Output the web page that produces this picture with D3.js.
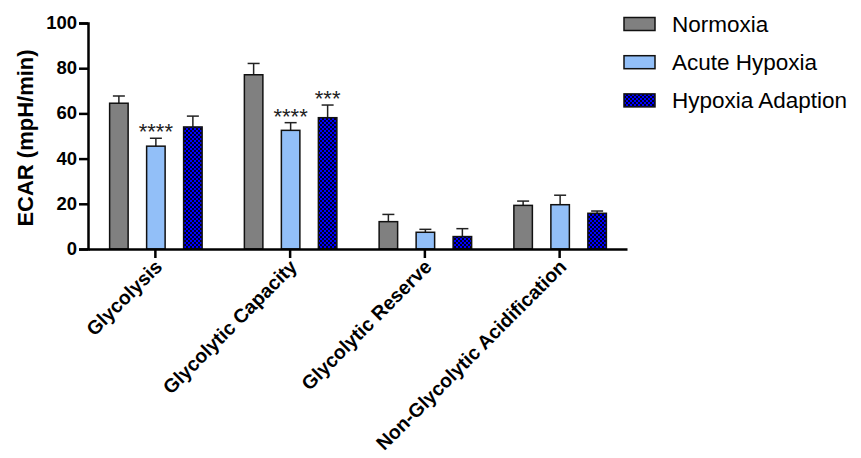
<!DOCTYPE html>
<html>
<head>
<meta charset="utf-8">
<script src="https://cdn.jsdelivr.net/npm/d3@7"></script>
<style>
  body { margin: 0; background: #fff; }
  svg { display: block; font-family: Arial, "Liberation Sans", sans-serif; }
</style>
</head>
<body>
<svg id="chart" width="861" height="458"></svg>
<script>
// ECAR parameters per condition (mean and SEM)
const categories = ["Glycolysis", "Glycolytic Capacity", "Glycolytic Reserve", "Non-Glycolytic Acidification"];
const seriesNames = ["Normoxia", "Acute Hypoxia", "Hypoxia Adaption"];
const normoxiaMean = [64.5, 77.1, 12.1, 19.3];
const normoxiaSem = [3.2, 5.0, 3.2, 1.9];
const acuteMean = [45.5, 52.5, 7.4, 19.6];
const acuteSem = [3.5, 3.4, 1.3, 4.2];
const adaptionMean = [54.0, 58.1, 5.5, 15.8];
const adaptionSem = [4.8, 5.6, 3.5, 1.0];
const significance = [["", "****", ""], ["", "****", "***"], ["", "", ""], ["", "", ""]];
const yTicks = [0, 20, 40, 60, 80, 100];

const svg = d3.select("#chart");
const defs = svg.append("defs");
const pat = defs.append("pattern")
  .attr("id", "checker").attr("patternUnits", "userSpaceOnUse")
  .attr("width", 4).attr("height", 4);
pat.append("rect").attr("width", 4).attr("height", 4).attr("fill", "#0000ff");
pat.append("rect").attr("width", 2).attr("height", 2).attr("fill", "#000022");
pat.append("rect").attr("x", 2).attr("y", 2).attr("width", 2).attr("height", 2).attr("fill", "#000022");

const fills = ["#808080", "#92bff8", "url(#checker)"];
const means = [normoxiaMean, acuteMean, adaptionMean];
const sems = [normoxiaSem, acuteSem, adaptionSem];

const x = d3.scaleBand().domain(categories).range([88, 627]);
const inner = d3.scaleBand().domain(seriesNames).range([-55, 56]).paddingInner(0.5).paddingOuter(0.25);
const y = d3.scaleLinear().domain([0, 100]).range([249, 23]);

const data = [];
categories.forEach((c, i) => seriesNames.forEach((s, j) => {
  data.push({ c, s, j, v: means[j][i], e: sems[j][i], sig: significance[i][j] });
}));

const g = svg.append("g");
const bw = inner.bandwidth();
const bx = d => x(d.c) + x.bandwidth() / 2 + inner(d.s);

// upper error bars
g.selectAll("line.err").data(data).join("line")
  .attr("x1", d => bx(d) + bw / 2).attr("x2", d => bx(d) + bw / 2)
  .attr("y1", d => y(d.v)).attr("y2", d => y(d.v + d.e))
  .attr("stroke", "#222").attr("stroke-width", 1.5);
g.selectAll("line.cap").data(data).join("line")
  .attr("x1", d => bx(d) + bw / 2 - 6).attr("x2", d => bx(d) + bw / 2 + 6)
  .attr("y1", d => y(d.v + d.e)).attr("y2", d => y(d.v + d.e))
  .attr("stroke", "#222").attr("stroke-width", 1.5);

g.selectAll("rect.bar").data(data).join("rect")
  .attr("x", d => bx(d)).attr("width", bw)
  .attr("y", d => y(d.v)).attr("height", d => y(0) - y(d.v))
  .attr("fill", d => fills[d.j]).attr("stroke", "#111").attr("stroke-width", 1.5);

// significance stars
g.selectAll("text.sig").data(data.filter(d => d.sig)).join("text")
  .attr("x", d => bx(d) + bw / 2).attr("y", d => y(d.v + d.e) + 1)
  .attr("text-anchor", "middle").attr("font-size", 22).attr("fill", "#222")
  .text(d => d.sig);

// axes
const yAxis = svg.append("g").attr("transform", "translate(88,0)")
  .call(d3.axisLeft(y).tickValues(yTicks).tickSize(9).tickPadding(2));
yAxis.select(".domain").attr("stroke-width", 2.5);
yAxis.selectAll(".tick line").attr("stroke-width", 2.5);
yAxis.selectAll("text").attr("font-size", 18.5).attr("font-weight", "bold").attr("fill", "#000")
  .attr("dy", "0.3em");

const xAxis = svg.append("g").attr("transform", "translate(0,249)")
  .call(d3.axisBottom(x).tickSize(9).tickSizeOuter(0));
xAxis.select(".domain").attr("stroke-width", 2.5);
xAxis.selectAll(".tick line").attr("stroke-width", 2.5);
xAxis.selectAll("text")
  .attr("x", 0).attr("y", 0).attr("dy", null)
  .attr("font-size", 19.5).attr("font-weight", "bold").attr("fill", "#000")
  .attr("text-anchor", "end")
  .attr("transform", "translate(8,19) rotate(-45)");

svg.append("text")
  .attr("transform", "translate(33,138) rotate(-90)")
  .attr("text-anchor", "middle").attr("font-size", 22).attr("font-weight", "bold")
  .text("ECAR (mpH/min)");

// legend
const leg = svg.append("g").attr("transform", "translate(624,0)");
seriesNames.forEach((s, j) => {
  const yy = 24 + j * 38.2;
  leg.append("rect").attr("x", 0).attr("y", yy - 6.5).attr("width", 31).attr("height", 13)
    .attr("fill", fills[j]).attr("stroke", "#111").attr("stroke-width", 1.5);
  leg.append("text").attr("x", 48).attr("y", yy).attr("dy", "0.35em")
    .attr("font-size", 22.5).attr("fill", "#000").text(s);
});
</script>
</body>
</html>
